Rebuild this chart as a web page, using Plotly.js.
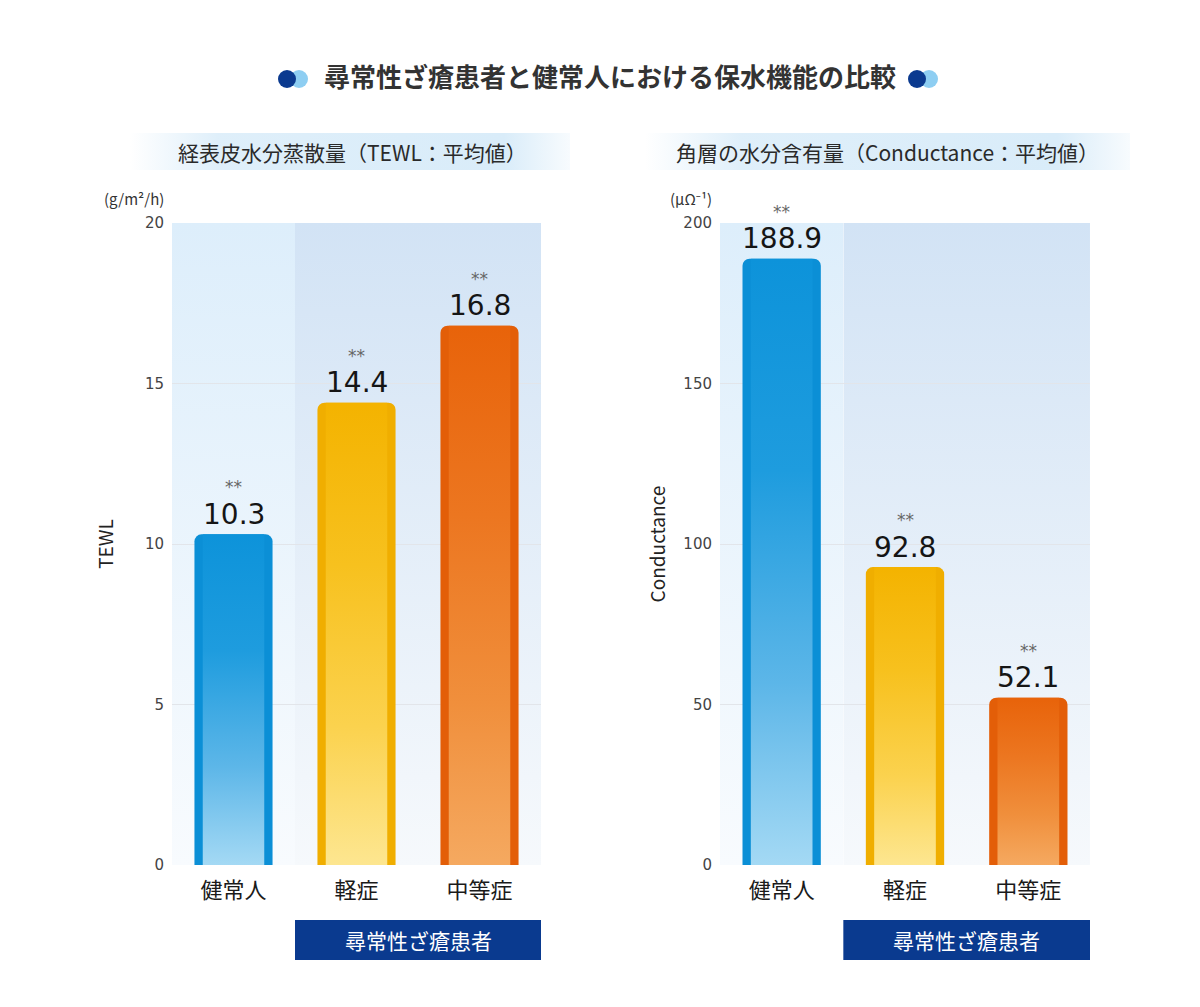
<!DOCTYPE html>
<html>
<head>
<meta charset="utf-8">
<script src="https://cdn.plot.ly/plotly-3.0.1.min.js"></script>
<style>
html,body{margin:0;padding:0;background:#fff;}
#chart{width:1200px;height:1007px;}
</style>
</head>
<body>
<div id="chart"></div>
<script>
// ---- data ----
const categories = ['健常人', '軽症', '中等症'];
const tewl = [10.3, 14.4, 16.8];
const conductance = [188.9, 92.8, 52.1];
const significance = ['**', '**', '**'];
const tewlTicks = [0, 5, 10, 15, 20];
const condTicks = [0, 50, 100, 150, 200];
const mainTitle = '尋常性ざ瘡患者と健常人における保水機能の比較';
const leftSubtitle = '経表皮水分蒸散量（TEWL：平均値）';
const rightSubtitle = '角層の水分含有量（Conductance：平均値）';
const leftUnit = '(g/m²/h)';
const rightUnit = '(μΩ⁻¹)';
const leftAxisTitle = 'TEWL';
const rightAxisTitle = 'Conductance';
const groupLabel = '尋常性ざ瘡患者';

// ---- styles ----
const FONT = '"Noto Sans CJK JP", "Noto Sans", sans-serif';
const NUMFONT = '"DejaVu Sans", "Noto Sans", sans-serif';
const H = 1007, W = 1200;
const py = p => 1 - p / H;
const px = p => p / W;
const edgeColors = ['#0b8fd6', '#f0ae00', '#e35e08'];
const gradStops = [
  [['0', '#0d93da'], ['0.35', '#1e9cde'], ['0.7', '#5cb6e8'], ['1', '#a4d9f4']],
  [['0', '#f4b300'], ['0.35', '#f7c11e'], ['0.7', '#fbd24e'], ['1', '#fde690']],
  [['0', '#e8630a'], ['0.35', '#ec7620'], ['0.7', '#f08f3c'], ['1', '#f5a960']]
];

function gradSvg(top, bottom) {
  const s = '<svg xmlns="http://www.w3.org/2000/svg" width="100" height="100" viewBox="0 0 100 100" preserveAspectRatio="none">' +
    '<defs><linearGradient id="g" x1="0" y1="0" x2="0" y2="1">' +
    '<stop offset="0" stop-color="' + top + '"/><stop offset="1" stop-color="' + bottom + '"/>' +
    '</linearGradient></defs><rect width="100" height="100" fill="url(#g)"/></svg>';
  return 'data:image/svg+xml;charset=utf-8,' + encodeURIComponent(s);
}
function bandSvg() {
  const s = '<svg xmlns="http://www.w3.org/2000/svg" width="100" height="100" viewBox="0 0 100 100" preserveAspectRatio="none">' +
    '<defs><linearGradient id="g" x1="0" y1="0" x2="1" y2="0">' +
    '<stop offset="0" stop-color="#d9ecf9" stop-opacity="0"/>' +
    '<stop offset="0.2" stop-color="#d9ecf9" stop-opacity="0.85"/>' +
    '<stop offset="0.85" stop-color="#d9ecf9" stop-opacity="1"/>' +
    '<stop offset="1" stop-color="#d9ecf9" stop-opacity="0.2"/>' +
    '</linearGradient></defs><rect width="100" height="100" fill="url(#g)"/></svg>';
  return 'data:image/svg+xml;charset=utf-8,' + encodeURIComponent(s);
}

function barPair(values, xa, ya) {
  return [
    { type: 'bar', x: categories, y: values, xaxis: xa, yaxis: ya, width: 0.635,
      marker: { color: edgeColors, cornerradius: 7, line: { width: 0 } },
      hoverinfo: 'skip', showlegend: false, meta: 'outer' },
    { type: 'bar', x: categories, y: values, xaxis: xa, yaxis: ya, width: 0.5,
      marker: { color: edgeColors, line: { width: 0 } },
      hoverinfo: 'skip', showlegend: false, meta: 'inner' }
  ];
}

const data = [...barPair(tewl, 'x', 'y'), ...barPair(conductance, 'x2', 'y2')];

const annotations = [];
function valueLabels(values, xa, ya) {
  values.forEach((v, i) => {
    annotations.push({ xref: xa, yref: ya, x: categories[i], y: v, text: v.toFixed(1),
      showarrow: false, xanchor: 'center', yanchor: 'middle', yshift: 20, borderpad: 0,
      font: { family: NUMFONT, size: 28, color: '#151515' } });
    annotations.push({ xref: xa, yref: ya, x: categories[i], y: v, text: significance[i],
      showarrow: false, xanchor: 'center', yanchor: 'middle', yshift: 47, borderpad: 0,
      font: { family: NUMFONT, size: 17, color: '#666' } });
  });
}
valueLabels(tewl, 'x', 'y');
valueLabels(conductance, 'x2', 'y2');

// subtitles, units, group labels
annotations.push(
  { xref: 'paper', yref: 'paper', x: px(352), y: py(152), xanchor: 'center', yanchor: 'middle',
    text: leftSubtitle, showarrow: false, font: { family: FONT, size: 21, color: '#2a2a2a' } },
  { xref: 'paper', yref: 'paper', x: px(887), y: py(152), xanchor: 'center', yanchor: 'middle',
    text: rightSubtitle, showarrow: false, font: { family: FONT, size: 21, color: '#2a2a2a' } },
  { xref: 'paper', yref: 'paper', x: px(166), y: py(198), xanchor: 'right', yanchor: 'middle',
    text: leftUnit, showarrow: false, font: { family: FONT, size: 15, color: '#333' } },
  { xref: 'paper', yref: 'paper', x: px(714), y: py(198), xanchor: 'right', yanchor: 'middle',
    text: rightUnit, showarrow: false, font: { family: FONT, size: 15, color: '#333' } },
  { xref: 'x', yref: 'paper', x: 1.5, y: py(940), xanchor: 'center', yanchor: 'middle',
    text: groupLabel, showarrow: false, font: { family: FONT, size: 21, color: '#ffffff' } },
  { xref: 'x2', yref: 'paper', x: 1.5, y: py(940), xanchor: 'center', yanchor: 'middle',
    text: groupLabel, showarrow: false, font: { family: FONT, size: 21, color: '#ffffff' } }
);

const shapes = [];
function dots(cx) {
  shapes.push({ type: 'circle', xref: 'paper', yref: 'paper', xsizemode: 'pixel', ysizemode: 'pixel',
    xanchor: px(cx + 12), yanchor: py(79), x0: -9, x1: 9, y0: -9, y1: 9,
    fillcolor: '#8ecef2', line: { width: 0 } });
  shapes.push({ type: 'circle', xref: 'paper', yref: 'paper', xsizemode: 'pixel', ysizemode: 'pixel',
    xanchor: px(cx), yanchor: py(79), x0: -9, x1: 9, y0: -9, y1: 9,
    fillcolor: '#0b3a8f', line: { width: 0 } });
}
dots(287);
dots(917);
['x', 'x2'].forEach(xa => {
  shapes.push({ type: 'rect', xref: xa, yref: 'paper', x0: 0.5, x1: 2.5, y0: py(960), y1: py(920),
    fillcolor: '#0a3a8f', line: { width: 0 }, layer: 'below' });
});

const images = [
  { source: bandSvg(), xref: 'paper', yref: 'paper', x: px(130), y: py(133), sizex: px(440), sizey: 37 / H,
    sizing: 'stretch', layer: 'below', xanchor: 'left', yanchor: 'top' },
  { source: bandSvg(), xref: 'paper', yref: 'paper', x: px(645), y: py(133), sizex: px(485), sizey: 37 / H,
    sizing: 'stretch', layer: 'below', xanchor: 'left', yanchor: 'top' },
  { source: gradSvg('#ddeefb', '#f8fbfe'), xref: 'x', yref: 'y', x: -0.5, y: 20, sizex: 1, sizey: 20,
    sizing: 'stretch', layer: 'below', xanchor: 'left', yanchor: 'top' },
  { source: gradSvg('#d2e3f5', '#f6f9fc'), xref: 'x', yref: 'y', x: 0.5, y: 20, sizex: 2, sizey: 20,
    sizing: 'stretch', layer: 'below', xanchor: 'left', yanchor: 'top' },
  { source: gradSvg('#ddeefb', '#f8fbfe'), xref: 'x2', yref: 'y2', x: -0.5, y: 200, sizex: 1, sizey: 200,
    sizing: 'stretch', layer: 'below', xanchor: 'left', yanchor: 'top' },
  { source: gradSvg('#d2e3f5', '#f6f9fc'), xref: 'x2', yref: 'y2', x: 0.5, y: 200, sizex: 2, sizey: 200,
    sizing: 'stretch', layer: 'below', xanchor: 'left', yanchor: 'top' }
];

const xAxisBase = {
  type: 'category', range: [-0.5, 2.5], showgrid: false, zeroline: false, showline: false,
  ticks: '', ticklabelstandoff: 10, tickfont: { family: FONT, size: 22, color: '#1a1a1a' }, fixedrange: true
};
const yAxisBase = {
  showgrid: true, gridcolor: '#e2e5ea', gridwidth: 1, zeroline: false, showline: false, ticks: '',
  ticklabelstandoff: 7, tickfont: { family: NUMFONT, size: 15, color: '#444' }, fixedrange: true,
  domain: [py(865), py(223)]
};

const layout = {
  width: W, height: H,
  margin: { l: 0, r: 0, t: 0, b: 0 },
  paper_bgcolor: '#ffffff', plot_bgcolor: 'rgba(0,0,0,0)',
  barmode: 'overlay', showlegend: false,
  title: { text: mainTitle, x: px(610), xanchor: 'center', y: py(78), yanchor: 'middle',
    font: { family: FONT, size: 26, color: '#333', weight: 'bold' } },
  xaxis: Object.assign({}, xAxisBase, { domain: [px(172), px(541)], anchor: 'y' }),
  xaxis2: Object.assign({}, xAxisBase, { domain: [px(720), px(1090)], anchor: 'y2' }),
  yaxis: Object.assign({}, yAxisBase, { anchor: 'x', range: [0, 20], tickvals: tewlTicks,
    title: { text: leftAxisTitle, standoff: 26, font: { family: FONT, size: 19, color: '#222' } } }),
  yaxis2: Object.assign({}, yAxisBase, { anchor: 'x2', range: [0, 200], tickvals: condTicks,
    title: { text: rightAxisTitle, standoff: 12, font: { family: FONT, size: 19, color: '#222' } } }),
  annotations: annotations, shapes: shapes, images: images
};

Plotly.newPlot('chart', data, layout, { staticPlot: true, displayModeBar: false }).then(gd => {
  const svg = gd.querySelector('svg.main-svg');
  const NS = 'http://www.w3.org/2000/svg';
  const defs = document.createElementNS(NS, 'defs');
  gradStops.forEach((stops, i) => {
    const lg = document.createElementNS(NS, 'linearGradient');
    lg.setAttribute('id', 'barGrad' + i);
    lg.setAttribute('x1', '0'); lg.setAttribute('y1', '0');
    lg.setAttribute('x2', '0'); lg.setAttribute('y2', '1');
    stops.forEach(s => {
      const st = document.createElementNS(NS, 'stop');
      st.setAttribute('offset', s[0]);
      st.setAttribute('stop-color', s[1]);
      lg.appendChild(st);
    });
    defs.appendChild(lg);
  });
  svg.insertBefore(defs, svg.firstChild);
  gd.querySelectorAll('g.trace.bars').forEach(g => {
    const cd = g.__data__;
    const tr = cd && cd[0] && cd[0].trace;
    if (!tr || tr.meta !== 'inner') return;
    g.querySelectorAll('path').forEach((p, i) => {
      p.style.fill = 'url(#barGrad' + (i % 3) + ')';
    });
  });
});
</script>
</body>
</html>
